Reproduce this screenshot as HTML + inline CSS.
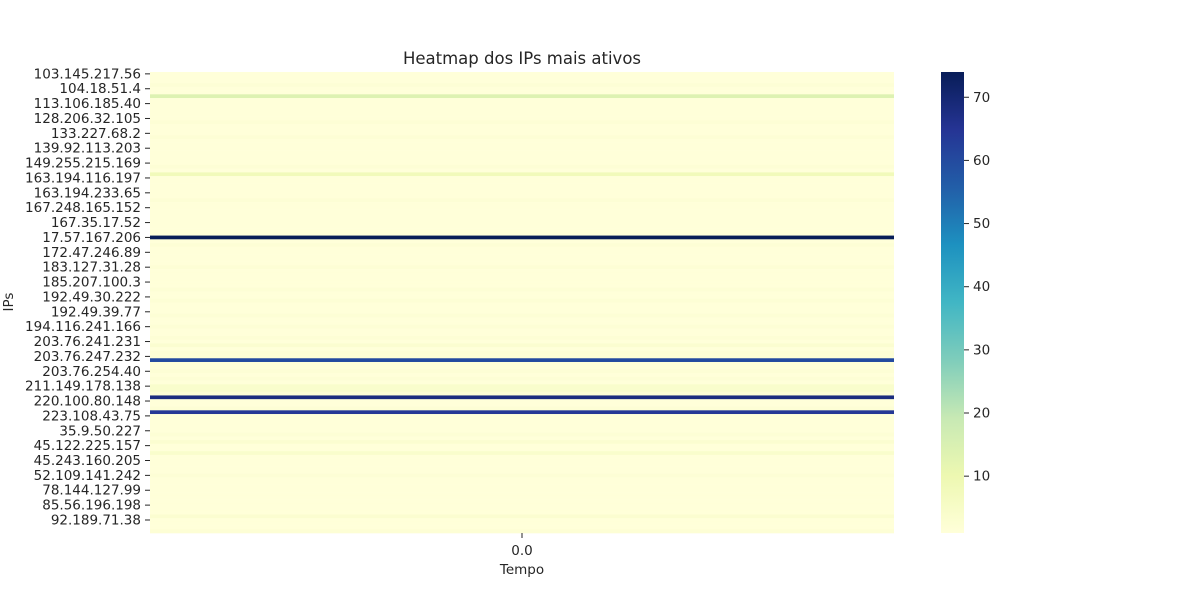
<!DOCTYPE html>
<html><head><meta charset="utf-8"><style>
body{margin:0;background:#fff;font-family:"DejaVu Sans","Liberation Sans",sans-serif;}
text{font-family:"DejaVu Sans","Liberation Sans",sans-serif;fill:#262626;}
</style></head><body>
<svg id="chart" width="1200" height="600" xmlns="http://www.w3.org/2000/svg">
<defs><linearGradient id="cbgrad" x1="0" y1="1" x2="0" y2="0"></linearGradient></defs>
<text x="522" y="64" text-anchor="middle" font-size="16.5">Heatmap dos IPs mais ativos</text>
<text transform="translate(13,302) rotate(-90)" text-anchor="middle" font-size="13.5">IPs</text>
<text x="522" y="574" text-anchor="middle" font-size="13.5">Tempo</text>
<g id="cells"></g>
<g id="yticks"></g>
<g id="xticks"></g>
<g id="cbar"></g>
</svg>
<script>
const tickLabels=["103.145.217.56","104.18.51.4","113.106.185.40","128.206.32.105","133.227.68.2","139.92.113.203","149.255.215.169","163.194.116.197","163.194.233.65","167.248.165.152","167.35.17.52","17.57.167.206","172.47.246.89","183.127.31.28","185.207.100.3","192.49.30.222","192.49.39.77","194.116.241.166","203.76.241.231","203.76.247.232","203.76.254.40","211.149.178.138","220.100.80.148","223.108.43.75","35.9.50.227","45.122.225.157","45.243.160.205","52.109.141.242","78.144.127.99","85.56.196.198","92.189.71.38"];
const values=[1,1,1,2,1,1,14,1,1,1,
1,1,1,2,1,1,1,2,1,1,
1,1,1,1,1,2,1,8,1,1,
1,1,1,1,2,1,1,1,1,1,
1,1,1,1,74,1,2,1,1,1,
1,1,2,1,1,1,1,1,2,1,
1,2,1,1,1,2,1,1,2,1,
1,2,1,3,1,2,2,60,1,1,
2,1,2,1,4,4,2,68,1,1,
2,64,1,1,1,1,1,2,1,3,
1,1,4,1,1,1,1,1,2,1,
1,1,1,1,1,1,1,1,1,3,
1,1,1,2];
const xCategories=["0.0"];
const cbTicks=[10,20,30,40,50,60,70];
const vmin=1,vmax=74;
const stops=["#ffffd9","#edf8b1","#c7e9b4","#7fcdbb","#41b6c4","#1d91c0","#225ea8","#253494","#081d58"];
function hex(h){return [1,3,5].map(i=>parseInt(h.substr(i,2),16));}
function cmap(v){let t=(v-vmin)/(vmax-vmin);t=Math.max(0,Math.min(1,t));const p=t*(stops.length-1);const i=Math.min(Math.floor(p),stops.length-2);const f=p-i;const a=hex(stops[i]),b=hex(stops[i+1]);return "rgb("+a.map((c,k)=>Math.round(c+(b[k]-c)*f)).join(",")+")";}
const NS="http://www.w3.org/2000/svg";
const X0=150,X1=894,Y0=72,Y1=533;
const rowH=(Y1-Y0)/values.length;
function yScale(i){return Y0+i*rowH;}
const cells=document.getElementById('cells');
values.forEach((v,i)=>{const r=document.createElementNS(NS,'rect');


r.setAttribute('x',X0);r.setAttribute('y',yScale(i));r.setAttribute('width',X1-X0);r.setAttribute('height',rowH+0.3);r.setAttribute('fill',cmap(v));cells.appendChild(r);});
const yt=document.getElementById('yticks');
tickLabels.forEach((lab,k)=>{const y=yScale(k*4)+rowH/2;
const l=document.createElementNS(NS,'line');


l.setAttribute('x1',145);l.setAttribute('x2',150);l.setAttribute('y1',y);l.setAttribute('y2',y);l.setAttribute('stroke','#262626');yt.appendChild(l);
const t=document.createElementNS(NS,'text');


t.setAttribute('x',141);t.setAttribute('y',y+4.5);t.setAttribute('text-anchor','end');t.setAttribute('font-size','13.5');t.textContent=lab;yt.appendChild(t);});
const xt=document.getElementById('xticks');
xCategories.forEach((c,i)=>{const x=X0+(i+0.5)*(X1-X0)/xCategories.length;
const l=document.createElementNS(NS,'line');


l.setAttribute('x1',x);l.setAttribute('x2',x);l.setAttribute('y1',533);l.setAttribute('y2',538);l.setAttribute('stroke','#262626');xt.appendChild(l);
const t=document.createElementNS(NS,'text');


t.setAttribute('x',x);t.setAttribute('y',555);t.setAttribute('text-anchor','middle');t.setAttribute('font-size','13.5');t.textContent=c;xt.appendChild(t);});
const g=document.getElementById('cbgrad');
stops.forEach((s,i)=>{const st=document.createElementNS(NS,'stop');st.setAttribute('offset',i/(stops.length-1));st.setAttribute('stop-color',s);g.appendChild(st);});
const cb=document.getElementById('cbar');
const CX=941,CW=23;
function cbY(v){return Y1-(v-vmin)/(vmax-vmin)*(Y1-Y0);}
const cr=document.createElementNS(NS,'rect');


cr.setAttribute('x',CX);cr.setAttribute('y',Y0);cr.setAttribute('width',CW);cr.setAttribute('height',Y1-Y0);cr.setAttribute('fill','url(#cbgrad)');cb.appendChild(cr);
cbTicks.forEach(v=>{const y=cbY(v);
const l=document.createElementNS(NS,'line');


l.setAttribute('x1',CX+CW);l.setAttribute('x2',CX+CW+5);l.setAttribute('y1',y);l.setAttribute('y2',y);l.setAttribute('stroke','#262626');cb.appendChild(l);
const t=document.createElementNS(NS,'text');


t.setAttribute('x',CX+CW+9);t.setAttribute('y',y+4.5);t.setAttribute('font-size','13.5');t.textContent=v;cb.appendChild(t);});
</script>
</body></html>
